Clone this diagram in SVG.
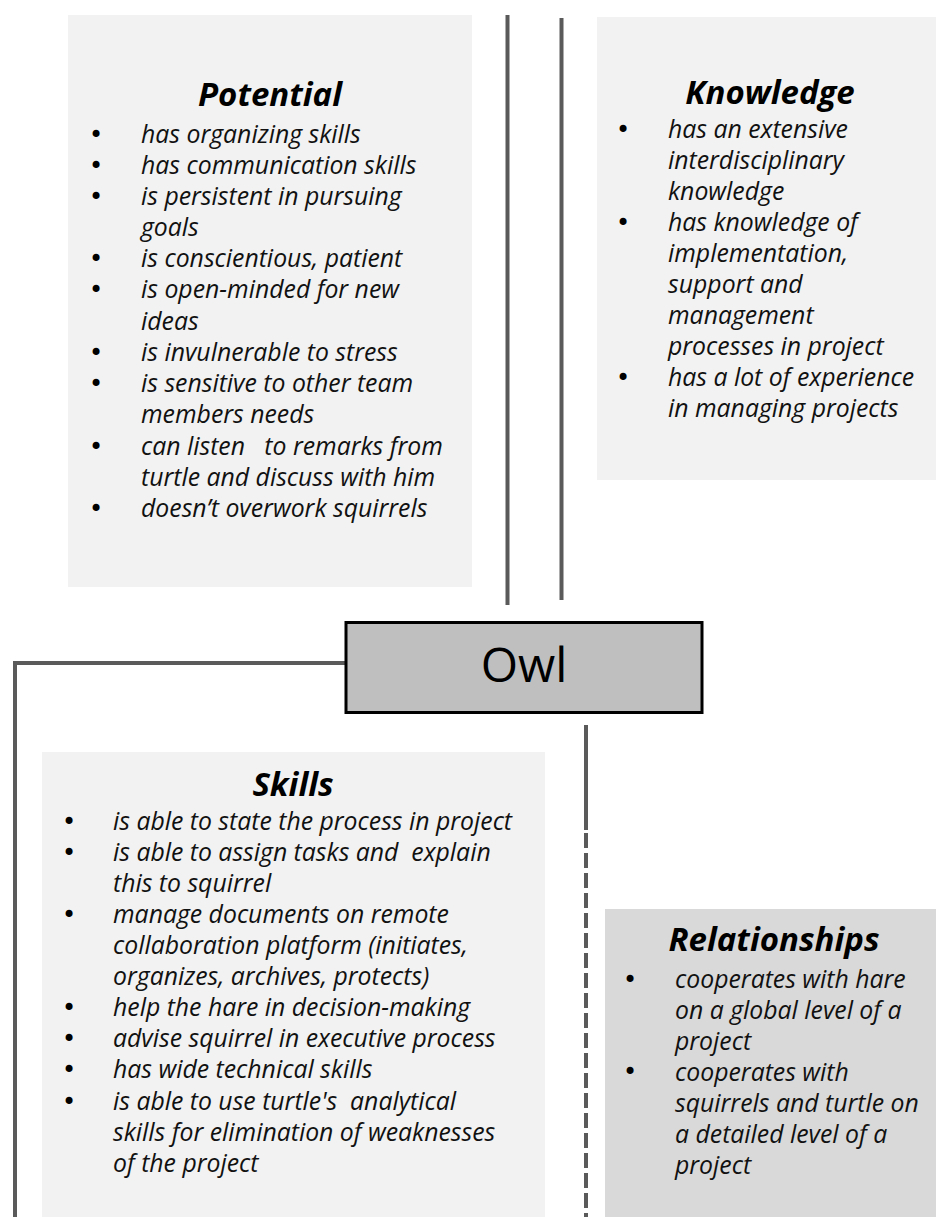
<svg xmlns="http://www.w3.org/2000/svg" width="936" height="1217" viewBox="0 0 936 1217">
<style>
.box{fill:#f2f2f2}
.rel{fill:#d9d9d9}
.title{font-family:"Open Sans","Noto Sans","DejaVu Sans",sans-serif;font-weight:bold;font-style:italic;font-size:33px;fill:#000;text-anchor:middle}
.t{font-family:"Open Sans","Noto Sans","DejaVu Sans",sans-serif;font-style:italic;font-size:24.8px;fill:#111}
.b{font-family:"DejaVu Sans",sans-serif;font-size:24px;fill:#000;text-anchor:middle}
.ln{stroke:#5a5a5a;stroke-width:4;fill:none}
</style>
<rect width="936" height="1217" fill="#fff"/>
<g id="connectors">
<line class="ln" x1="507.5" y1="15" x2="507.5" y2="605"/>
<line class="ln" x1="561.5" y1="18" x2="561.5" y2="600"/>
<polyline class="ln" points="345,663 15,663 15,1217"/>
<line class="ln" x1="586" y1="725" x2="586" y2="830"/>
<line class="ln" x1="586" y1="833" x2="586" y2="1217" stroke-dasharray="15 5"/>
</g>
<g id="potential">
<rect class="box" x="68" y="15" width="404" height="572"/>
<text class="title" x="270" y="106">Potential</text>
<g class="b">
<text x="96" y="143">•</text><text x="96" y="174">•</text><text x="96" y="205">•</text><text x="96" y="267">•</text><text x="96" y="298">•</text><text x="96" y="361">•</text><text x="96" y="392">•</text><text x="96" y="455">•</text><text x="96" y="517">•</text>
</g>
<g class="t">
<text x="141" y="143">has organizing skills</text>
<text x="141" y="174">has communication skills</text>
<text x="141" y="205">is persistent in pursuing</text>
<text x="141" y="236">goals</text>
<text x="141" y="267">is conscientious, patient</text>
<text x="141" y="298">is open-minded for new</text>
<text x="141" y="330">ideas</text>
<text x="141" y="361">is invulnerable to stress</text>
<text x="141" y="392">is sensitive to other team</text>
<text x="141" y="423">members needs</text>
<text x="141" y="455" xml:space="preserve">can listen   to remarks from</text>
<text x="141" y="486">turtle and discuss with him</text>
<text x="141" y="517">doesn’t overwork squirrels</text>
</g>
</g>
<g id="knowledge">
<rect class="box" x="597" y="17" width="345" height="463"/>
<text class="title" x="770" y="104">Knowledge</text>
<g class="b">
<text x="623" y="138">•</text><text x="623" y="231">•</text><text x="623" y="386">•</text>
</g>
<g class="t">
<text x="668" y="138">has an extensive</text>
<text x="668" y="169">interdisciplinary</text>
<text x="668" y="200">knowledge</text>
<text x="668" y="231">has knowledge of</text>
<text x="668" y="262">implementation,</text>
<text x="668" y="293">support and</text>
<text x="668" y="324">management</text>
<text x="668" y="355">processes in project</text>
<text x="668" y="386">has a lot of experience</text>
<text x="668" y="417">in managing projects</text>
</g>
</g>
<g id="owl">
<rect x="346" y="622.5" width="356" height="90" fill="#bfbfbf" stroke="#000" stroke-width="3"/>
<text x="524" y="682" font-family="'Open Sans','Noto Sans',sans-serif" font-size="48" fill="#000" text-anchor="middle">Owl</text>
</g>
<g id="skills">
<rect class="box" x="42" y="752" width="503" height="465"/>
<text class="title" x="293" y="796">Skills</text>
<g class="b">
<text x="69" y="830">•</text><text x="69" y="861">•</text><text x="69" y="923">•</text><text x="69" y="1016">•</text><text x="69" y="1047">•</text><text x="69" y="1078">•</text><text x="69" y="1110">•</text>
</g>
<g class="t">
<text x="113" y="830">is able to state the process in project</text>
<text x="113" y="861" xml:space="preserve">is able to assign tasks and  explain</text>
<text x="113" y="892">this to squirrel</text>
<text x="113" y="923">manage documents on remote</text>
<text x="113" y="954">collaboration platform (initiates,</text>
<text x="113" y="985">organizes, archives, protects)</text>
<text x="113" y="1016">help the hare in decision-making</text>
<text x="113" y="1047">advise squirrel in executive process</text>
<text x="113" y="1078">has wide technical skills</text>
<text x="113" y="1110" xml:space="preserve">is able to use turtle's  analytical</text>
<text x="113" y="1141">skills for elimination of weaknesses</text>
<text x="113" y="1172">of the project</text>
</g>
</g>
<g id="relationships">
<rect class="rel" x="605" y="909" width="340" height="308"/>
<text class="title" x="774" y="951">Relationships</text>
<g class="b">
<text x="630" y="988">•</text><text x="630" y="1080">•</text>
</g>
<g class="t">
<text x="675" y="988">cooperates with hare</text>
<text x="675" y="1019">on a global level of a</text>
<text x="675" y="1050">project</text>
<text x="675" y="1081">cooperates with</text>
<text x="675" y="1112">squirrels and turtle on</text>
<text x="675" y="1143">a detailed level of a</text>
<text x="675" y="1174">project</text>
</g>
</g>
</svg>
